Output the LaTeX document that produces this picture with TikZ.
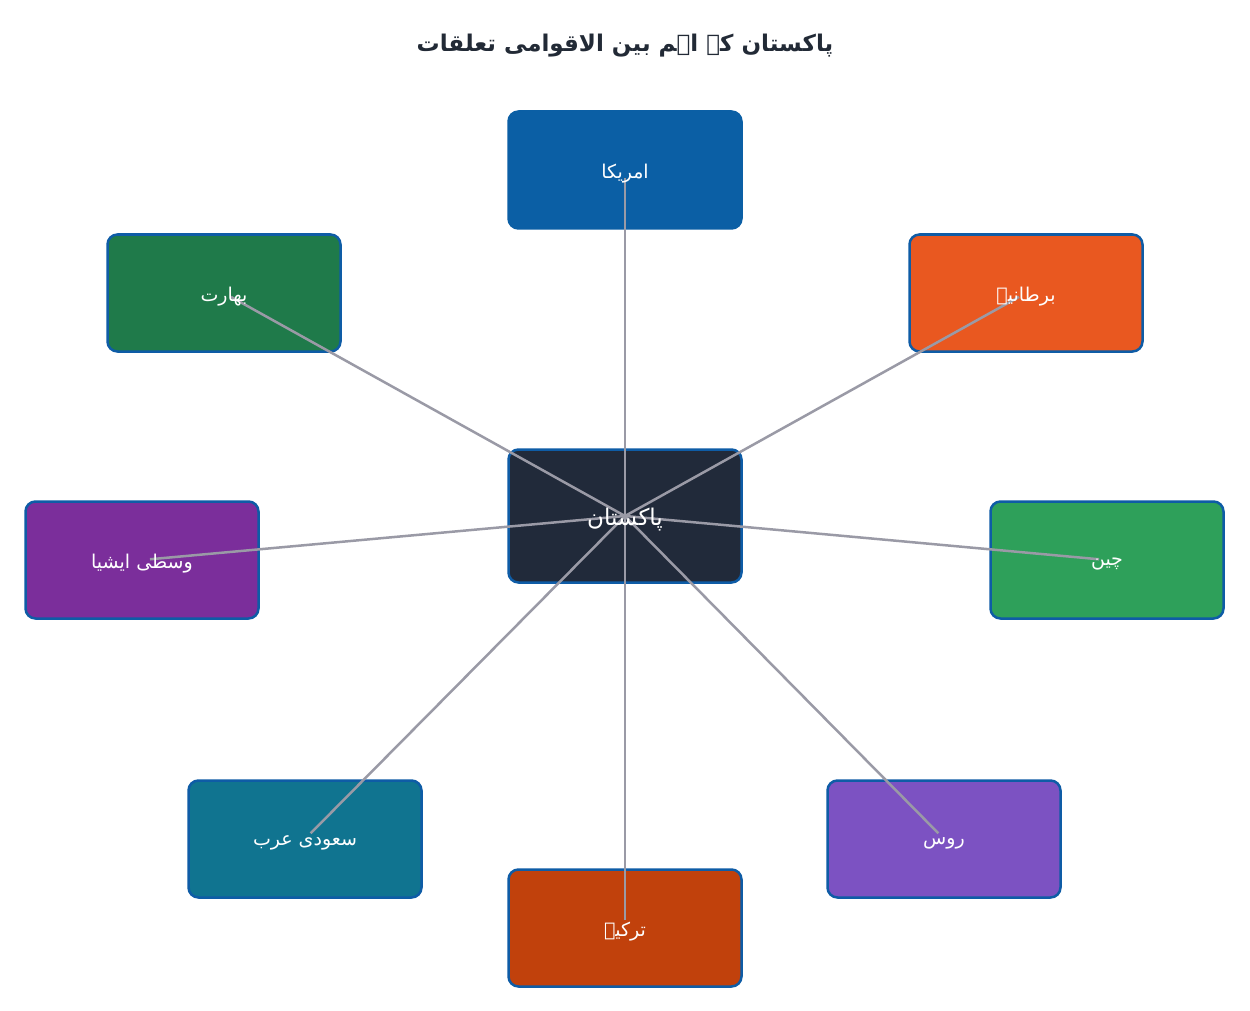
\documentclass[tikz,border=0pt]{standalone}
\usepackage{fontspec}
\newfontfamily\urdufont[Script=Arabic]{DejaVu Sans}
\TeXXeTstate=1
\definecolor{boxblue}{HTML}{0E5CA6}
\definecolor{linegray}{HTML}{9A9AA6}
\definecolor{titleink}{HTML}{222A36}
\definecolor{usafill}{HTML}{0B5FA5}
\definecolor{indiafill}{HTML}{1F7A4A}
\definecolor{ukfill}{HTML}{E95820}
\definecolor{asiafill}{HTML}{7B2E9B}
\definecolor{chinafill}{HTML}{2EA05A}
\definecolor{saudifill}{HTML}{107490}
\definecolor{turkeyfill}{HTML}{C1410C}
\definecolor{russiafill}{HTML}{7C52C2}
\definecolor{pakfill}{HTML}{212A3A}

\begin{document}
\begin{tikzpicture}[x=1pt, y=-1pt,
    country/.style={draw=boxblue, line width=2.5pt, rounded corners=10pt, inner sep=0pt,
        minimum width=233pt, minimum height=117pt},
    link/.style={draw=linegray, line width=2.5pt, shorten >=8pt},
    label/.style={text=white, yshift=-4pt, font=\urdufont\fontsize{19}{23}\selectfont}]
    \useasboundingbox[fill=white] (0, 0) rectangle (1250, 1011);

    \node[titleink, font=\urdufont\bfseries\fontsize{23}{28}\selectfont] (title) at (625, 46)
        {\beginR پاکستان کے اہم بین الاقوامی تعلقات\endR};

    % boxes
    \node[country, fill=pakfill, minimum height=133pt] (pak) at (625, 516) {};
    \node[country, fill=usafill, draw=usafill] (usa) at (625, 170) {};
    \node[country, fill=indiafill] (india) at (224, 293) {};
    \node[country, fill=ukfill] (uk) at (1026, 293) {};
    \node[country, fill=asiafill] (asia) at (142, 560) {};
    \node[country, fill=chinafill] (china) at (1107, 560) {};
    \node[country, fill=saudifill] (saudi) at (305, 839) {};
    \node[country, fill=turkeyfill] (turkey) at (625, 928) {};
    \node[country, fill=russiafill] (russia) at (944, 839) {};

    % links
    \foreach \c in {usa, india, uk, asia, china, saudi, turkey, russia}
        \draw[link] (pak.center) -- (\c.center);

    % texts
    \node[label, font=\urdufont\fontsize{23}{27}\selectfont] (pak-t) at (pak.center) {\beginR پاکستان\endR};
    \node[label] (usa-t) at (usa.center) {\beginR امریکا\endR};
    \node[label] (india-t) at (india.center) {\beginR بھارت\endR};
    \node[label] (uk-t) at (uk.center) {\beginR برطانیہ\endR};
    \node[label] (asia-t) at (asia.center) {\beginR وسطی ایشیا\endR};
    \node[label] (china-t) at (china.center) {\beginR چین\endR};
    \node[label] (saudi-t) at (saudi.center) {\beginR سعودی عرب\endR};
    \node[label] (turkey-t) at (turkey.center) {\beginR ترکیہ\endR};
    \node[label] (russia-t) at (russia.center) {\beginR روس\endR};
\end{tikzpicture}
\end{document}
